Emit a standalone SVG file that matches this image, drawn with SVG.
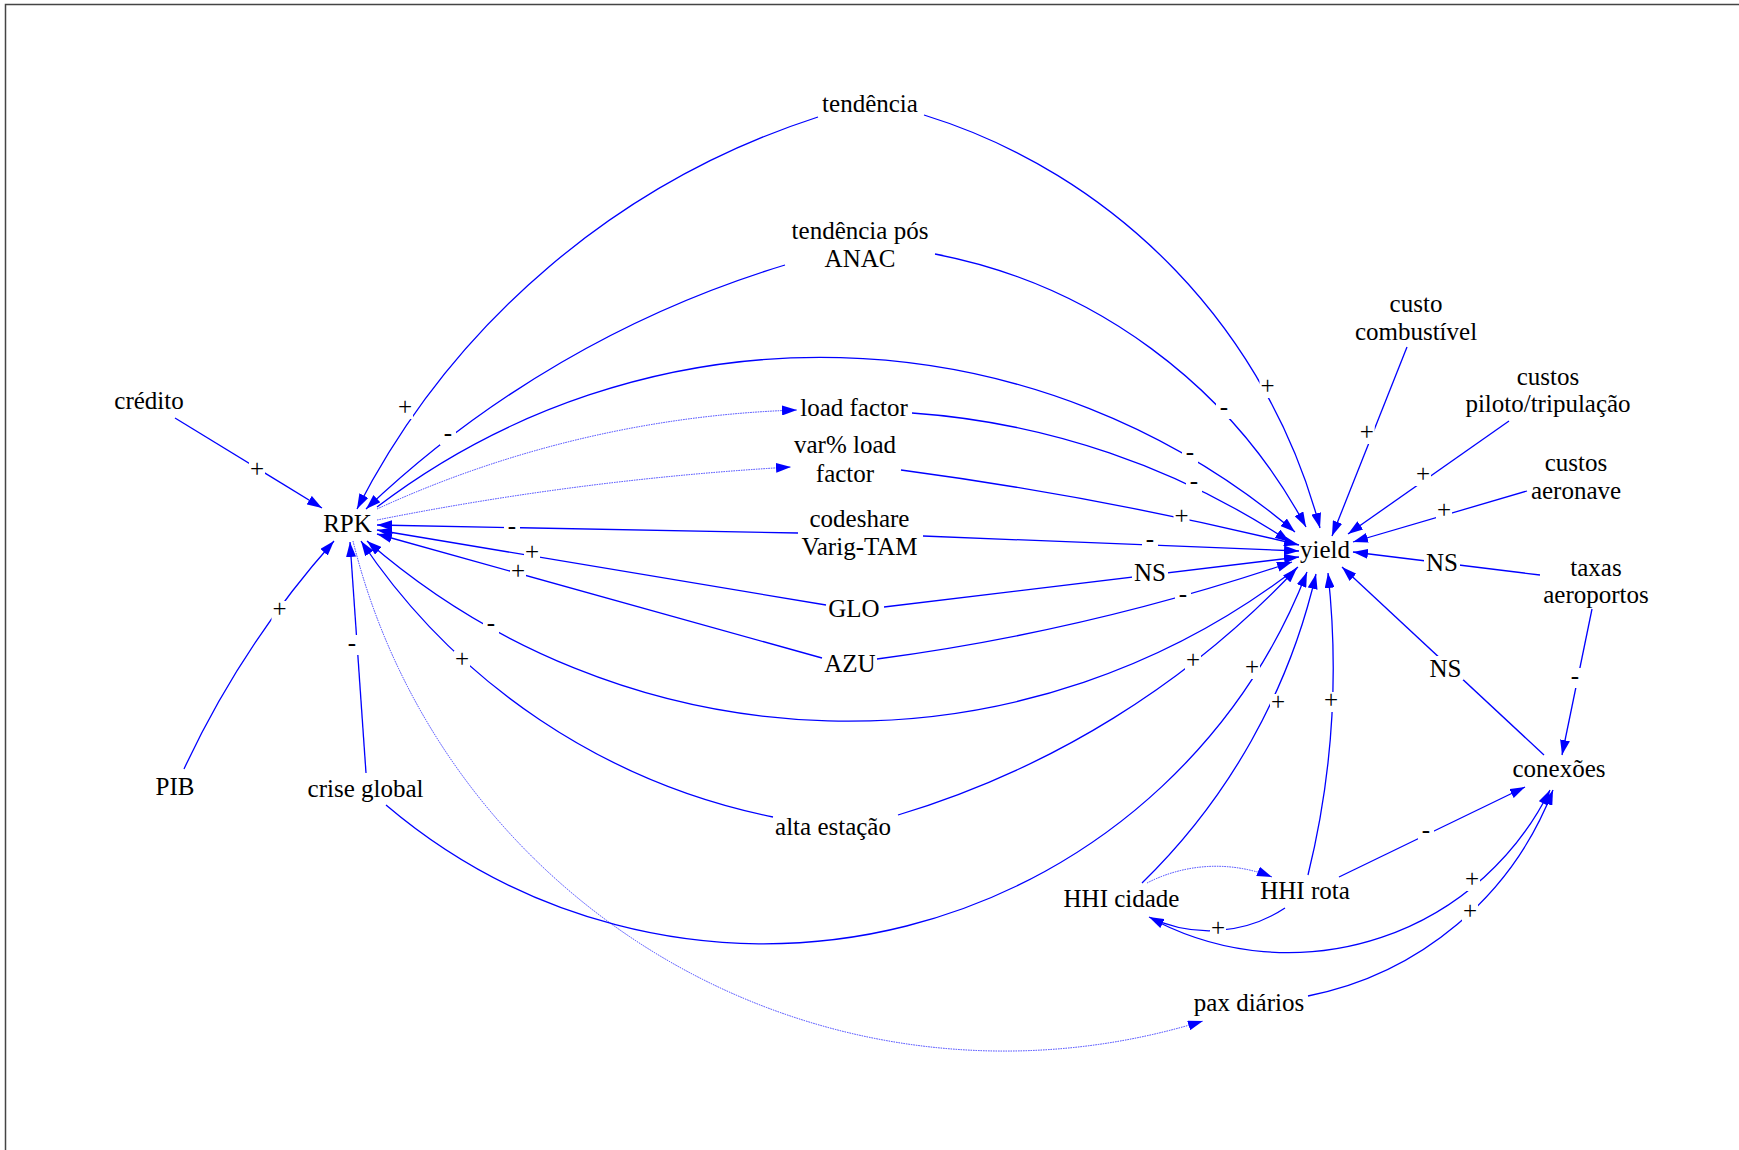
<svg xmlns="http://www.w3.org/2000/svg" width="1739" height="1150" viewBox="0 0 1739 1150">
<style>
.n text{font-family:"Liberation Serif","Times New Roman",serif;font-size:25px;fill:#000;text-anchor:middle}
.c path{fill:none;stroke:#0000ff;stroke-width:1.3;marker-end:url(#ah)}
.c path.dot{stroke:#3a3aff;stroke-width:1;stroke-dasharray:1.5 1}
.pl rect{fill:#fff}
.pl text{font-family:"Liberation Serif","Times New Roman",serif;font-size:25px;fill:#000;text-anchor:middle}
</style>
<defs>
<marker id="ah" markerUnits="userSpaceOnUse" markerWidth="15" markerHeight="10" refX="15" refY="5" orient="auto">
<path d="M0,0 L15,5 L0,10 z" fill="#0000ff"/>
</marker>
</defs>
<rect x="0" y="0" width="1739" height="1150" fill="#fff"/>
<rect x="5.5" y="4.5" width="1740" height="1150" fill="none" stroke="#444" stroke-width="1.5"/>
<g id="connectors" class="c">
<path d="M175,418 L322,508"/>
<path d="M184,769 A937,937 0 0 1 334,541"/>
<path d="M366,773 L350,542"/>
<path d="M818,117 A791,791 0 0 0 357,509"/>
<path d="M785,265 A1049,1049 0 0 0 366,509"/>
<path d="M798,533 L377,525"/>
<path d="M826,605 L377,530"/>
<path d="M822,658 L377,534"/>
<path d="M1298,567 A733,733 0 0 1 367,541"/>
<path d="M773,817 A652,652 0 0 1 361,541"/>
<path class="dot" d="M377,509 A1089,1089 0 0 1 797,410"/>
<path class="dot" d="M377,520 A3000,3000 0 0 1 791,467"/>
<path d="M377,507 A732,732 0 0 1 1295,532"/>
<path class="dot" d="M353,541 A671,671 0 0 0 1203,1021"/>
<path d="M924,115 A590,590 0 0 1 1320,528"/>
<path d="M935,254 A536,536 0 0 1 1306,527"/>
<path d="M912,413 A780,780 0 0 1 1290,542"/>
<path d="M901,470 A3800,3800 0 0 1 1299,545"/>
<path d="M923,536 L1299,551"/>
<path d="M884,607 L1299,557"/>
<path d="M877,659 A2188,2188 0 0 0 1292,562"/>
<path d="M898,815 A904,904 0 0 0 1297,568"/>
<path d="M386,805 A583,583 0 0 0 1307,572"/>
<path d="M1142,883 A629,629 0 0 0 1316,574"/>
<path d="M1308,875 A868,868 0 0 0 1328,573"/>
<path d="M1407,347 L1332,536"/>
<path d="M1509,421 L1348,534"/>
<path d="M1527,491 L1353,542"/>
<path d="M1540,575 L1353,552"/>
<path d="M1544,755 L1342,567"/>
<path d="M1592,609 L1562,755"/>
<path d="M1339,877 L1525,787"/>
<path class="dot" d="M1147,883 A151,151 0 0 1 1272,877"/>
<path d="M1285,908 A138,138 0 0 1 1149,917"/>
<path d="M1158,922 A292,292 0 0 0 1550,790"/>
<path d="M1308,996 A331,331 0 0 0 1553,790"/>
<g class="pl">
<rect x="249" y="461" width="16" height="20"/><text x="257" y="477">+</text>
<rect x="271.5" y="601" width="16" height="20"/><text x="279.5" y="617">+</text>
<rect x="344" y="635" width="16" height="20"/><text x="352" y="651">-</text>
<rect x="397" y="399" width="16" height="20"/><text x="405" y="415">+</text>
<rect x="440" y="425" width="16" height="20"/><text x="448" y="441">-</text>
<rect x="504" y="518" width="16" height="20"/><text x="512" y="534">-</text>
<rect x="524" y="544" width="16" height="20"/><text x="532" y="560">+</text>
<rect x="510" y="563" width="16" height="20"/><text x="518" y="579">+</text>
<rect x="483" y="615" width="16" height="20"/><text x="491" y="631">-</text>
<rect x="454" y="651" width="16" height="20"/><text x="462" y="667">+</text>
<rect x="1259.5" y="378" width="16" height="20"/><text x="1267.5" y="394">+</text>
<rect x="1216" y="399" width="16" height="20"/><text x="1224" y="415">-</text>
<rect x="1182" y="444" width="16" height="20"/><text x="1190" y="460">-</text>
<rect x="1186" y="473" width="16" height="20"/><text x="1194" y="489">-</text>
<rect x="1173.5" y="508" width="16" height="20"/><text x="1181.5" y="524">+</text>
<rect x="1142" y="531" width="16" height="20"/><text x="1150" y="547">-</text>
<rect x="1132" y="560" width="36" height="24"/><text x="1150" y="580.5">NS</text>
<rect x="1175" y="586" width="16" height="20"/><text x="1183" y="602">-</text>
<rect x="1185" y="652" width="16" height="20"/><text x="1193" y="668">+</text>
<rect x="1244" y="659" width="16" height="20"/><text x="1252" y="675">+</text>
<rect x="1270" y="694" width="16" height="20"/><text x="1278" y="710">+</text>
<rect x="1323" y="692" width="16" height="20"/><text x="1331" y="708">+</text>
<rect x="1358.7" y="424" width="16" height="20"/><text x="1366.7" y="440">+</text>
<rect x="1415" y="466" width="16" height="20"/><text x="1423" y="482">+</text>
<rect x="1436" y="502" width="16" height="20"/><text x="1444" y="518">+</text>
<rect x="1424" y="550" width="36" height="24"/><text x="1442" y="570.5">NS</text>
<rect x="1427.5" y="656" width="36" height="24"/><text x="1445.5" y="676.5">NS</text>
<rect x="1567" y="668" width="16" height="20"/><text x="1575" y="684">-</text>
<rect x="1418" y="822" width="16" height="20"/><text x="1426" y="838">-</text>
<rect x="1210" y="920" width="16" height="20"/><text x="1218" y="936">+</text>
<rect x="1464" y="871" width="16" height="20"/><text x="1472" y="887">+</text>
<rect x="1462" y="903" width="16" height="20"/><text x="1470" y="919">+</text>
</g>
</g>
<g class="n">
<g id="tendencia"><text x="870" y="112">tendência</text></g>
<g id="tendencia_pos_anac"><text x="860" y="239">tendência pós</text><text x="860" y="267">ANAC</text></g>
<g id="credito"><text x="149" y="409">crédito</text></g>
<g id="rpk"><text x="347.5" y="532">RPK</text></g>
<g id="load_factor"><text x="854" y="416">load factor</text></g>
<g id="var_load_factor"><text x="845" y="453">var% load</text><text x="845" y="482">factor</text></g>
<g id="codeshare"><text x="859.5" y="527">codeshare</text><text x="859.5" y="555">Varig-TAM</text></g>
<g id="glo"><text x="854" y="617">GLO</text></g>
<g id="azu"><text x="850" y="672">AZU</text></g>
<g id="yield"><text x="1325" y="558">yield</text></g>
<g id="custo_combustivel"><text x="1416" y="312">custo</text><text x="1416" y="340">combustível</text></g>
<g id="custos_piloto"><text x="1548" y="385">custos</text><text x="1548" y="412">piloto/tripulação</text></g>
<g id="custos_aeronave"><text x="1576" y="471">custos</text><text x="1576" y="499">aeronave</text></g>
<g id="taxas_aeroportos"><text x="1596" y="576">taxas</text><text x="1596" y="603">aeroportos</text></g>
<g id="conexoes"><text x="1559" y="777">conexões</text></g>
<g id="pib"><text x="175" y="795">PIB</text></g>
<g id="crise_global"><text x="365.5" y="797">crise global</text></g>
<g id="alta_estacao"><text x="833" y="835">alta estação</text></g>
<g id="hhi_cidade"><text x="1121.5" y="907">HHI cidade</text></g>
<g id="hhi_rota"><text x="1305" y="899">HHI rota</text></g>
<g id="pax_diarios"><text x="1249" y="1011">pax diários</text></g>
</g>
</svg>
